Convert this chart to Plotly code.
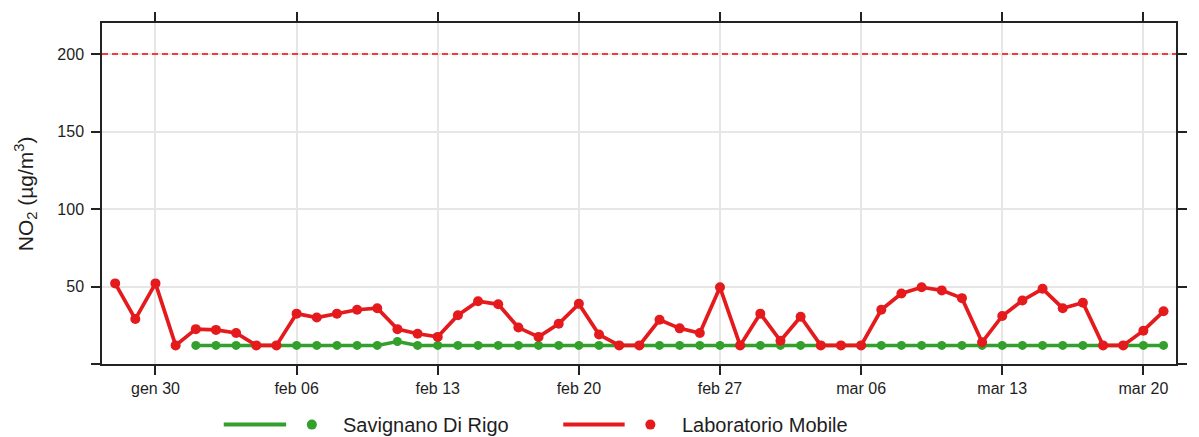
import pandas as pd
import plotly.graph_objects as go

# ---------------- data ----------------
RED_START, RED_END = "2023-01-28", "2023-03-21"
GREEN_START, GREEN_END = "2023-02-01", "2023-03-21"

lab_mobile = [52, 29, 52, 12,
              22.5, 22, 20, 12, 12, 32.5, 30, 32.5, 35, 36, 22.5, 19.5, 17.5, 31.5, 40.5,
              38.5, 23.5, 17.5, 26, 38.8, 19, 12, 12, 28.5, 23, 20, 49.5, 12,
              32.5, 15, 30.5, 12, 12, 12, 35, 45.5, 49.5, 47.5, 42.5, 14, 31, 41, 48.5,
              36, 39.5, 12, 12, 21.5, 34]
savignano = [12, 12, 12, 12, 12, 12, 12, 12, 12, 12, 14.5, 12, 12, 12, 12, 12, 12,
             12, 12, 12, 12, 12, 12, 12, 12, 12, 12, 12,
             12, 12, 12, 12, 12, 12, 12, 12, 12, 12, 12, 12, 12, 12, 12, 12, 12,
             12, 12, 12, 12]
LIMIT = 200

x_tick_dates = ["2023-01-30", "2023-02-06", "2023-02-13", "2023-02-20",
                "2023-02-27", "2023-03-06", "2023-03-13", "2023-03-20"]
x_tick_labels = ["gen 30", "feb 06", "feb 13", "feb 20", "feb 27", "mar 06", "mar 13", "mar 20"]
y_tick_vals = [0, 50, 100, 150, 200]
y_tick_labels = ["", "50", "100", "150", "200"]
series_names = ["Savignano Di Rigo", "Laboratorio Mobile"]

RED = "#e41a1c"
GREEN = "#33a02c"
FONT = "Liberation Sans, Arial, sans-serif"
TXT = "#1e1e1e"

red_dates = pd.date_range(RED_START, RED_END, freq="D")
green_dates = pd.date_range(GREEN_START, GREEN_END, freq="D")

# ---------------- figure ----------------
W, H = 1199, 437
ML, MR, MT, MB = 102, 12, 18, 73
PW, PH = W - ML - MR, H - MT - MB

def px(x):
    return (x - ML) / PW

def py(y):
    return (H - MB - y) / PH

fig = go.Figure()
fig.add_trace(go.Scatter(x=green_dates, y=savignano, mode="lines+markers",
                         name=series_names[0], line=dict(color=GREEN, width=3.5),
                         marker=dict(color=GREEN, size=9), showlegend=False))
fig.add_trace(go.Scatter(x=red_dates, y=lab_mobile, mode="lines+markers",
                         name=series_names[1], line=dict(color=RED, width=3.7),
                         marker=dict(color=RED, size=10), showlegend=False))

# limit line
fig.add_shape(type="line", xref="paper", x0=0, x1=1, yref="y", y0=LIMIT, y1=LIMIT,
              line=dict(color="#ff0000", width=1.3, dash="6px,4px"), layer="above")

# custom legend
leg_y = py(425.5)
for (lx0, lx1, dot_x, tx, color, name) in [
        (225, 288, 314, 343, GREEN, series_names[0]),
        (568, 630, 656, 686, RED, series_names[1])]:
    fig.add_shape(type="line", xref="paper", yref="paper", x0=px(lx0), x1=px(lx1),
                  y0=leg_y, y1=leg_y, line=dict(color=color, width=4))
    fig.add_shape(type="circle", xref="paper", yref="paper", xsizemode="pixel",
                  ysizemode="pixel", xanchor=px(dot_x), yanchor=leg_y,
                  x0=-5, x1=5, y0=-5, y1=5, fillcolor=color, line=dict(width=0))
    fig.add_annotation(x=px(tx), y=leg_y, xref="paper", yref="paper", text=name,
                       showarrow=False, xanchor="left", yanchor="middle",
                       font=dict(family=FONT, size=20, color=TXT))

# y-axis title
fig.add_annotation(x=px(25), y=0.5, xref="paper", yref="paper",
                   text="NO<sub>2</sub> (µg/m<sup>3</sup>)", textangle=-90,
                   showarrow=False, xanchor="center", yanchor="middle",
                   font=dict(family=FONT, size=21, color=TXT))

fig.update_layout(
    width=W, height=H,
    margin=dict(l=ML, r=MR, t=MT, b=MB),
    paper_bgcolor="white", plot_bgcolor="white",
    showlegend=False,
    font=dict(family=FONT, size=16, color=TXT),
    xaxis=dict(range=["2023-01-27 08:20", "2023-03-21 14:50"],
               tickvals=x_tick_dates, ticktext=x_tick_labels,
               showgrid=True, gridcolor="#e6e6e6", gridwidth=1.5,
               showline=True, linecolor="#222", linewidth=1.5, mirror="ticks",
               ticks="outside", ticklen=9, tickwidth=1.5, tickcolor="#222",
               zeroline=False, tickfont=dict(size=16)),
    yaxis=dict(range=[0, 220], tickvals=y_tick_vals, ticktext=y_tick_labels,
               showgrid=True, gridcolor="#e6e6e6", gridwidth=1.5,
               showline=True, linecolor="#222", linewidth=1.5, mirror="ticks",
               ticks="outside", ticklen=9, tickwidth=1.5, tickcolor="#222",
               zeroline=False, tickfont=dict(size=16), ticklabelstandoff=4),
)

fig.write_html("out.html", config={"displayModeBar": False},
               post_script="document.body.style.margin='0px';document.body.style.overflow='hidden';")
